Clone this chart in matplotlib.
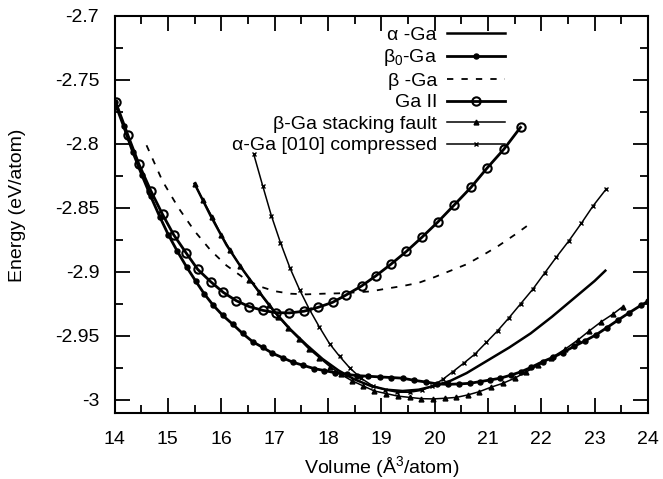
import matplotlib
matplotlib.use("Agg")
import matplotlib.pyplot as plt
from matplotlib.ticker import MultipleLocator, FormatStrFormatter

# alpha-Ga (solid line, no markers)
alpha_v = [15.5, 15.8, 16.1, 16.4, 16.7, 17.0, 17.3, 17.6, 17.9, 18.2, 18.5, 18.8,
           19.1, 19.4, 19.7, 20.0, 20.3, 20.6, 21.0, 21.4, 21.8, 22.2, 22.6, 23.0, 23.2]
alpha_e = [-2.831, -2.856, -2.879, -2.898, -2.915, -2.931, -2.945, -2.957, -2.968,
           -2.977, -2.984, -2.989, -2.992, -2.993, -2.992, -2.989, -2.985, -2.979,
           -2.969, -2.959, -2.948, -2.935, -2.921, -2.907, -2.899]

# beta0-Ga (filled dots)
beta0_v = [14.0, 14.17, 14.34, 14.51, 14.68, 14.85, 15.01, 15.18, 15.35, 15.52, 15.68,
           15.85, 16.03, 16.22, 16.40, 16.59, 16.78, 16.96, 17.15, 17.34, 17.54, 17.74,
           17.93, 18.13, 18.35, 18.55, 18.76, 18.97, 19.19, 19.40, 19.62, 19.84, 20.05,
           20.25, 20.46, 20.66, 20.85, 21.04, 21.23, 21.44, 21.62, 21.81, 22.03, 22.22,
           22.40, 22.62, 22.81, 23.03, 23.23, 23.43, 23.65, 23.87, 24.0]
beta0_e = [-2.767, -2.786, -2.806, -2.824, -2.841, -2.857, -2.871, -2.884, -2.896,
           -2.907, -2.917, -2.926, -2.934, -2.941, -2.948, -2.9545, -2.959, -2.9635,
           -2.967, -2.9705, -2.973, -2.9755, -2.977, -2.9787, -2.980, -2.981, -2.9815,
           -2.982, -2.9825, -2.983, -2.9847, -2.986, -2.9875, -2.9878, -2.9875, -2.987,
           -2.9857, -2.9844, -2.983, -2.9805, -2.978, -2.9745, -2.970, -2.9667, -2.963,
           -2.958, -2.954, -2.949, -2.9435, -2.9378, -2.9318, -2.926, -2.923]

# beta-Ga (dashed)
beta_v = [14.6, 14.9, 15.2, 15.5, 15.8, 16.1, 16.4, 16.7, 17.0, 17.3, 17.6, 17.9, 18.2,
          18.5, 18.8, 19.1, 19.4, 19.7, 20.0, 20.3, 20.6, 20.9, 21.2, 21.5, 21.8]
beta_e = [-2.801, -2.829, -2.850, -2.868, -2.883, -2.895, -2.904, -2.911, -2.915,
          -2.917, -2.9175, -2.917, -2.9167, -2.916, -2.9152, -2.913, -2.911, -2.9085,
          -2.904, -2.899, -2.894, -2.887, -2.8795, -2.871, -2.862]

# Ga II (open circles)
gaii_v = [14.02, 14.25, 14.46, 14.68, 14.90, 15.11, 15.34, 15.56, 15.80, 16.04, 16.28,
          16.52, 16.78, 17.02, 17.28, 17.55, 17.82, 18.09, 18.34, 18.63, 18.90, 19.18,
          19.47, 19.76, 20.06, 20.36, 20.68, 20.98, 21.30, 21.61]
gaii_e = [-2.767, -2.793, -2.816, -2.8365, -2.855, -2.871, -2.885, -2.898, -2.9075,
          -2.916, -2.9224, -2.927, -2.930, -2.9318, -2.932, -2.9307, -2.9276, -2.9237,
          -2.918, -2.911, -2.903, -2.894, -2.884, -2.873, -2.861, -2.848, -2.834,
          -2.819, -2.804, -2.787]

# beta-Ga stacking fault (triangles)
sf_v = [15.5, 15.66, 15.83, 16.0, 16.17, 16.35, 16.53, 16.71, 16.89, 17.07, 17.26,
        17.45, 17.64, 17.84, 18.04, 18.24, 18.45, 18.66, 18.87, 19.09, 19.31, 19.53,
        19.75, 19.97, 20.19, 20.41, 20.63, 20.84, 21.06, 21.28, 21.5, 21.72, 21.94,
        22.19, 22.44, 22.69, 22.9, 23.12, 23.34, 23.53]
sf_e = [-2.831, -2.844, -2.857, -2.871, -2.883, -2.895, -2.906, -2.916, -2.926, -2.935,
        -2.944, -2.952, -2.960, -2.967, -2.974, -2.980, -2.985, -2.989, -2.993, -2.995,
        -2.997, -2.998, -2.999, -2.9992, -2.9987, -2.998, -2.996, -2.9935, -2.990,
        -2.987, -2.983, -2.978, -2.973, -2.967, -2.9605, -2.953, -2.946, -2.939,
        -2.933, -2.927]

# alpha-Ga [010] compressed (crosses)
comp_v = [16.61, 16.78, 16.94, 17.11, 17.29, 17.47, 17.65, 17.84, 18.03, 18.22, 18.41,
          18.62, 18.84, 19.07, 19.3, 19.53, 19.76, 19.96, 20.15, 20.34, 20.56, 20.76,
          20.97, 21.18, 21.39, 21.61, 21.84, 22.06, 22.28, 22.52, 22.75, 22.97, 23.22]
comp_e = [-2.808, -2.833, -2.856, -2.877, -2.897, -2.914, -2.929, -2.943, -2.956,
          -2.966, -2.975, -2.983, -2.989, -2.992, -2.994, -2.994, -2.9925, -2.989,
          -2.984, -2.978, -2.9708, -2.964, -2.955, -2.946, -2.936, -2.925, -2.9135,
          -2.901, -2.8885, -2.8755, -2.862, -2.8484, -2.835]

plt.rcParams['font.family'] = ['Liberation Sans', 'DejaVu Sans']
plt.rcParams['mathtext.fontset'] = 'custom'
plt.rcParams['mathtext.rm'] = 'Liberation Sans'
plt.rcParams['mathtext.it'] = 'Liberation Sans:italic'
plt.rcParams['axes.unicode_minus'] = False


def main():
    fig = plt.figure(figsize=(6.63, 4.79), dpi=100)
    ax = fig.add_axes([0.1727, 0.1378, 0.8047, 0.8288])

    ax.plot(alpha_v, alpha_e, '-', color='black', lw=1.8, label='α -Ga')
    ax.plot(beta0_v, beta0_e, '-o', color='black', lw=2.0, ms=3.6, label='β$_0$-Ga')
    ax.plot(beta_v, beta_e, '--', color='black', lw=1.3, dashes=(3.5, 4.5), label='β -Ga')
    ax.plot(gaii_v, gaii_e, '-o', color='black', lw=2.0, ms=6, mfc='none', mew=1.5,
            label='Ga II')
    ax.plot(sf_v, sf_e, '-^', color='black', lw=1.1, ms=3.5, label='β-Ga stacking fault')
    ax.plot(comp_v, comp_e, '-x', color='black', lw=1.1, ms=3.5, mew=1.0,
            label='α-Ga [010] compressed')

    ax.set_xlim(14, 24)
    ax.set_ylim(-3.0102, -2.7)
    ax.xaxis.set_major_locator(MultipleLocator(1))
    ax.xaxis.set_minor_locator(MultipleLocator(0.5))
    ax.yaxis.set_major_locator(MultipleLocator(0.05))
    ax.yaxis.set_minor_locator(MultipleLocator(0.025))
    ax.yaxis.set_major_formatter(FormatStrFormatter('%g'))
    ax.tick_params(which='both', direction='in', top=True, right=True, width=1.3,
                   labelsize=14)
    ax.tick_params(which='major', length=11)
    ax.tick_params(which='minor', length=6)
    ax.tick_params(axis='x', which='major', pad=13)
    ax.tick_params(axis='y', which='major', pad=11)
    for s in ax.spines.values():
        s.set_linewidth(1.5)

    ax.set_xlabel('Volume (Å$^3$/atom)', fontsize=14)
    ax.set_ylabel('Energy (eV/atom)', fontsize=14)
    ax.yaxis.set_label_coords(-0.166, 0.524)

    ax.legend(loc='upper right', bbox_to_anchor=(0.732, 0.975), frameon=False,
              markerfirst=False, fontsize=14, handlelength=3.0, handletextpad=0.5,
              labelspacing=0.2, borderpad=0, borderaxespad=0)

    fig.savefig('out.png', dpi=100)


if __name__ == '__main__':
    main()
